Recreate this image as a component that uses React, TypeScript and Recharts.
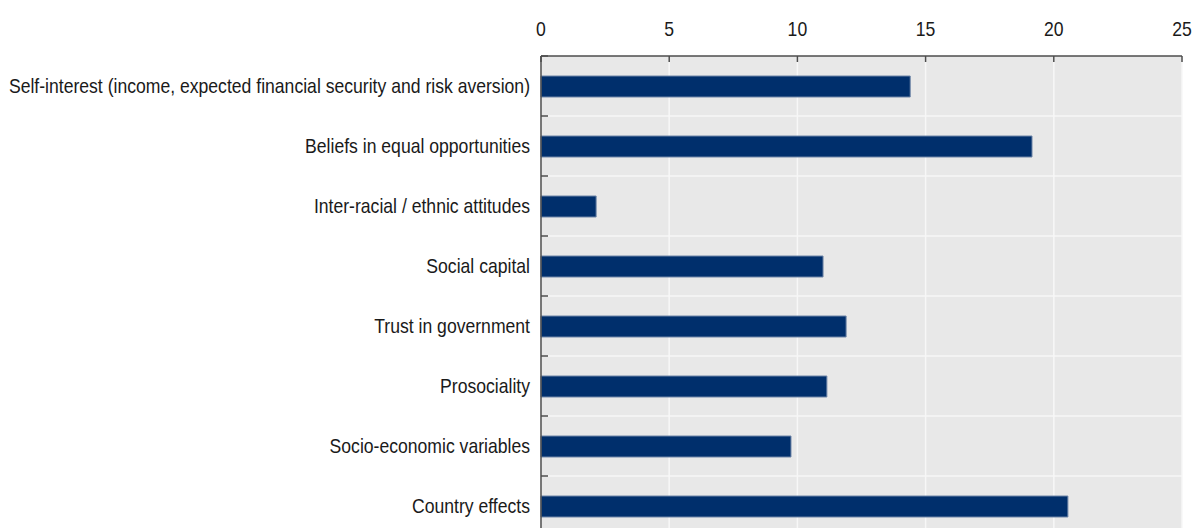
import { BarChart, Bar, XAxis, YAxis, CartesianGrid } from "recharts"

const categories = [
  "Self-interest (income, expected financial security and risk aversion)",
  "Beliefs in equal opportunities",
  "Inter-racial / ethnic attitudes",
  "Social capital",
  "Trust in government",
  "Prosociality",
  "Socio-economic variables",
  "Country effects",
]
const shares = [14.4, 19.15, 2.15, 11.0, 11.9, 11.15, 9.75, 20.55]
const xTicks = [0, 5, 10, 15, 20, 25]

const data = categories.map((name, i) => ({ name, value: shares[i] }))

const FONT = "'Liberation Sans', Arial, sans-serif"
const TEXT = "#1a1a1a"
const AXIS = "#4d4d4d"
const TOP_MARGIN = 20
const CAT_MARGIN = 11
const SQUEEZE = 0.88

const TopTick = (props: any) => {
  const { x, y, payload } = props
  return (
    <g>
      <line x1={x} x2={x} y1={y + TOP_MARGIN} y2={y + TOP_MARGIN + 6} stroke={AXIS} strokeWidth={1.5} />
      <text
        transform={`translate(${x},${y}) scale(${SQUEEZE},1)`}
        textAnchor="middle"
        fontFamily={FONT}
        fontSize={20}
        fill={TEXT}
      >
        {payload.value}
      </text>
    </g>
  )
}

// category label plus the small tick at the top edge of its band
const CatTick = (props: any) => {
  const { x, y, payload } = props
  const edge = y - (payload.offset ?? 0)
  return (
    <g>
      <line x1={x + CAT_MARGIN} x2={x + CAT_MARGIN + 7} y1={edge} y2={edge} stroke={AXIS} strokeWidth={1.5} />
      <text
        transform={`translate(${x},${y}) scale(${SQUEEZE},1)`}
        dy="0.355em"
        textAnchor="end"
        fontFamily={FONT}
        fontSize={20}
        fill={TEXT}
      >
        {payload.value}
      </text>
    </g>
  )
}

// white lines between the category bands
const bandEdges = ({ yAxis, offset }: any) => {
  const scale = yAxis?.scale
  let pts: number[] = []
  if (typeof scale === "function") pts = categories.slice(1).map((c) => scale(c))
  if (pts.length && pts.every((p) => Number.isFinite(p))) return pts
  const n = categories.length
  return categories.slice(1).map((_, i) => offset.top + ((i + 1) * offset.height) / n)
}

export default function App() {
  return (
    <div style={{ position: "absolute", left: 0, top: 0, background: "#fff" }}>
      <BarChart
        width={1193}
        height={560}
        data={data}
        layout="vertical"
        margin={{ top: 0, right: 11, bottom: 24, left: 0 }}
      >
        <CartesianGrid
          fill="#e8e8e8"
          stroke="#f7f7f7"
          strokeWidth={1.5}
          horizontalCoordinatesGenerator={bandEdges}
        />
        <YAxis
          type="category"
          dataKey="name"
          width={541}
          axisLine={{ stroke: AXIS, strokeWidth: 1.5 }}
          tickLine={false}
          tickSize={0}
          tickMargin={CAT_MARGIN}
          interval={0}
          tick={<CatTick />}
        />
        <XAxis
          orientation="top"
          type="number"
          domain={[0, 25]}
          ticks={xTicks}
          height={56}
          axisLine={{ stroke: AXIS, strokeWidth: 1.5 }}
          tickLine={false}
          tickSize={0}
          tickMargin={TOP_MARGIN}
          tick={<TopTick />}
        />
        <Bar
          dataKey="value"
          fill="#002f6c"
          stroke="#6f86a8"
          strokeWidth={1}
          barSize={21}
          isAnimationActive={false}
        />
      </BarChart>
    </div>
  )
}
